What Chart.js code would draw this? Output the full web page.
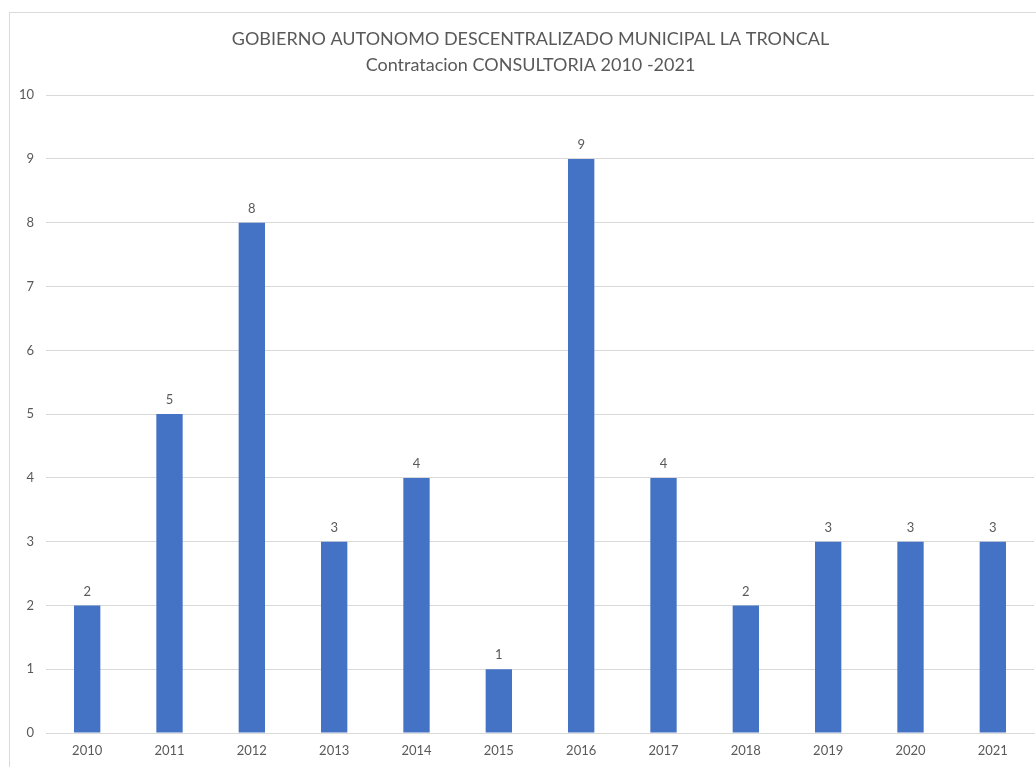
<!DOCTYPE html>
<html lang="es">
<head>
  <meta charset="UTF-8">
  <title>Contratacion CONSULTORIA 2010-2021</title>
  <script src="https://cdn.jsdelivr.net/npm/chart.js"></script>
  <style>
    html, body { margin: 0; padding: 0; background: #fff; overflow: hidden; }
    #frame {
      position: absolute; left: 9px; top: 12px;
      width: 1060px; height: 800px;
      border: 1px solid #d9d9d9;
    }
    #wrap { position: absolute; left: 0; top: 0; width: 1036px; height: 767px; }
  </style>
</head>
<body>
  <div id="frame"></div>
  <div id="wrap"><canvas id="chart" width="1036" height="767"></canvas></div>

  <script>
    const years = ['2010', '2011', '2012', '2013', '2014', '2015', '2016', '2017', '2018', '2019', '2020', '2021'];
    const contratos = [2, 5, 8, 3, 4, 1, 9, 4, 2, 3, 3, 3];
    const titleLines = ['GOBIERNO AUTONOMO DESCENTRALIZADO MUNICIPAL LA TRONCAL', 'Contratacion CONSULTORIA 2010 -2021'];

    const gray = '#595959';
    const fontFamily = 'Lato, "Open Sans", sans-serif';

    // etiquetas de valor encima de cada barra
    const valueLabels = {
      id: 'valueLabels',
      afterDatasetsDraw(chart) {
        const ctx = chart.ctx;
        const meta = chart.getDatasetMeta(0);
        ctx.save();
        ctx.font = '13px ' + fontFamily;
        ctx.fillStyle = gray;
        ctx.textAlign = 'center';
        ctx.textBaseline = 'middle';
        meta.data.forEach((bar, i) => {
          ctx.fillText(chart.data.datasets[0].data[i], bar.x, bar.y - 14);
        });
        ctx.restore();
      }
    };

    // el titulo en el original esta un poco a la derecha
    const shiftTitle = {
      id: 'shiftTitle',
      afterLayout(chart) {
        if (chart.titleBlock) {
          chart.titleBlock.left += 4;
          chart.titleBlock.right += 4;
        }
      }
    };

    new Chart(document.getElementById('chart'), {
      type: 'bar',
      data: {
        labels: years,
        datasets: [{
          data: contratos,
          backgroundColor: '#4472c4',
          categoryPercentage: 1,
          barPercentage: 0.32
        }]
      },
      options: {
        responsive: false,
        animation: false,
        layout: { padding: { left: 19, right: 2, top: 0, bottom: 0 } },
        plugins: {
          legend: { display: false },
          tooltip: { enabled: false },
          title: {
            display: true,
            text: titleLines,
            color: gray,
            font: { family: fontFamily, size: 18, weight: 'normal', lineHeight: 1.45 },
            padding: { top: 26, bottom: 17 }
          }
        },
        scales: {
          x: {
            grid: { display: false, drawTicks: false },
            border: { color: '#d9d9d9' },
            ticks: { color: gray, font: { family: fontFamily, size: 13 }, padding: 10 },
            afterFit(scale) { scale.height = 34; }
          },
          y: {
            min: 0,
            max: 10,
            grid: { color: '#d9d9d9', drawTicks: false },
            border: { display: false },
            ticks: { stepSize: 1, color: gray, font: { family: fontFamily, size: 13 }, padding: 12 },
            afterFit(scale) { scale.width = 27; }
          }
        }
      },
      plugins: [valueLabels, shiftTitle]
    });
  </script>
</body>
</html>
